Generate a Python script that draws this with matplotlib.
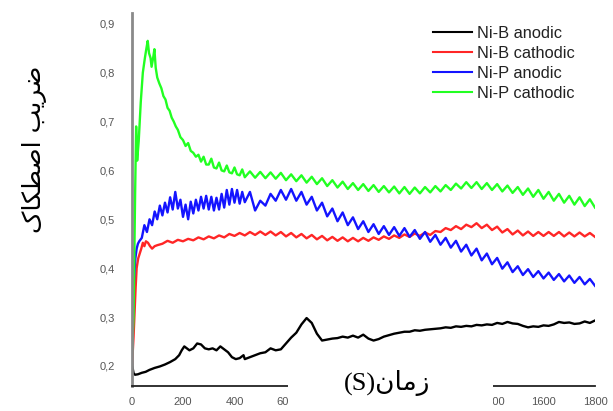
import numpy as np
import matplotlib
matplotlib.use("Agg")
import matplotlib.pyplot as plt
from matplotlib.patches import Rectangle

# time (s) for the dense tail part shared by all curves
t_tail = list(range(440, 1801, 20))

# Ni-B anodic
nib_an_t = [0, 3, 8, 14, 25, 40, 55, 70, 90, 110, 130, 150, 170, 185, 195, 205, 215,
            225, 240, 255, 270, 285, 300, 315, 330, 345, 360, 375, 390, 405, 420, 435]
nib_an_v = [0.25, 0.20, 0.185, 0.182, 0.183, 0.186, 0.188, 0.192, 0.196, 0.199, 0.203,
            0.208, 0.214, 0.222, 0.232, 0.240, 0.236, 0.232, 0.236, 0.246, 0.244, 0.236,
            0.234, 0.236, 0.232, 0.240, 0.234, 0.228, 0.218, 0.214, 0.216, 0.222]
nib_an_tail = [0.214, 0.218, 0.222, 0.226, 0.228, 0.236, 0.232, 0.234, 0.246, 0.258,
               0.268, 0.285, 0.298, 0.288, 0.266, 0.252, 0.254, 0.256, 0.257, 0.260,
               0.258, 0.262, 0.258, 0.264, 0.256, 0.252, 0.255, 0.260, 0.263, 0.266,
               0.268, 0.270, 0.270, 0.273, 0.272, 0.274, 0.275, 0.276, 0.277, 0.279,
               0.278, 0.281, 0.280, 0.282, 0.281, 0.284, 0.283, 0.285, 0.284, 0.288,
               0.286, 0.290, 0.287, 0.286, 0.282, 0.279, 0.281, 0.280, 0.283, 0.282,
               0.285, 0.290, 0.288, 0.289, 0.286, 0.287, 0.291, 0.288, 0.293]

# Ni-B cathodic
nib_ca_t = [0, 4, 8, 12, 16, 20, 26, 32, 38, 44, 50, 56, 64, 72, 80, 90, 100,
            120, 140, 160, 180, 200, 220, 240, 260, 280, 300, 320, 340, 360, 380, 400, 420]
nib_ca_v = [0.19, 0.22, 0.26, 0.31, 0.36, 0.40, 0.42, 0.43, 0.44, 0.452, 0.445, 0.455,
            0.452, 0.445, 0.440, 0.445, 0.447,
            0.450, 0.456, 0.452, 0.458, 0.455, 0.460, 0.457, 0.463, 0.459, 0.465, 0.461,
            0.467, 0.463, 0.470, 0.466, 0.472]
nib_ca_tail = [0.467, 0.474, 0.468, 0.475, 0.468, 0.475, 0.467, 0.474, 0.465, 0.472,
               0.463, 0.470, 0.461, 0.468, 0.459, 0.466, 0.457, 0.464, 0.456, 0.463,
               0.455, 0.462, 0.455, 0.462, 0.456, 0.463, 0.458, 0.465, 0.460, 0.467,
               0.462, 0.469, 0.464, 0.471, 0.466, 0.473, 0.468, 0.476, 0.474, 0.482,
               0.478, 0.486, 0.480, 0.489, 0.484, 0.492, 0.482, 0.489, 0.478, 0.485,
               0.473, 0.480, 0.469, 0.477, 0.467, 0.475, 0.466, 0.474, 0.466, 0.474,
               0.466, 0.474, 0.465, 0.473, 0.465, 0.473, 0.465, 0.472, 0.464]

# Ni-P anodic
nip_an_t = [0, 5, 10, 15, 20, 25, 30] + list(range(40, 431, 10))
nip_an_v = [0.20, 0.30, 0.38, 0.42, 0.44, 0.45, 0.455,
            0.462, 0.488, 0.474, 0.500, 0.488, 0.516, 0.500, 0.528, 0.508, 0.534,
            0.514, 0.545, 0.520, 0.556, 0.522, 0.540, 0.505, 0.530, 0.500, 0.536,
            0.512, 0.540, 0.518, 0.546, 0.522, 0.548, 0.520, 0.546, 0.518, 0.544,
            0.520, 0.552, 0.524, 0.560, 0.530, 0.562, 0.534, 0.560, 0.532, 0.556]
nip_an_tail = [0.535, 0.556, 0.518, 0.538, 0.528, 0.552, 0.538, 0.560, 0.540, 0.562,
               0.538, 0.556, 0.530, 0.546, 0.518, 0.534, 0.506, 0.522, 0.496, 0.514,
               0.488, 0.504, 0.480, 0.496, 0.474, 0.490, 0.470, 0.486, 0.468, 0.484,
               0.466, 0.482, 0.464, 0.478, 0.460, 0.474, 0.454, 0.468, 0.448, 0.462,
               0.442, 0.456, 0.434, 0.448, 0.426, 0.440, 0.416, 0.430, 0.408, 0.421,
               0.399, 0.412, 0.392, 0.404, 0.386, 0.398, 0.382, 0.394, 0.379, 0.391,
               0.376, 0.388, 0.373, 0.385, 0.370, 0.382, 0.367, 0.378, 0.364]

# Ni-P cathodic
nip_ca_t = [0, 8, 14, 18, 22, 28, 36, 44, 52, 58, 63, 68, 74, 78, 84, 89, 94, 100,
            108, 116, 124, 132, 140, 148, 156, 164, 172, 180, 190, 200, 210, 220, 230,
            240, 250, 260, 270, 280, 290, 300, 310, 320, 330, 340, 350, 360, 370, 380,
            390, 400, 410, 420, 430]
nip_ca_v = [0.20, 0.30, 0.55, 0.69, 0.62, 0.66, 0.74, 0.80, 0.83, 0.85, 0.865, 0.84,
            0.83, 0.812, 0.83, 0.848, 0.81, 0.79, 0.778, 0.768, 0.752, 0.745, 0.728,
            0.722, 0.708, 0.70, 0.69, 0.683, 0.668, 0.662, 0.65, 0.656, 0.64, 0.636,
            0.628, 0.632, 0.618, 0.628, 0.612, 0.612, 0.624, 0.606, 0.604, 0.616, 0.60,
            0.598, 0.610, 0.596, 0.594, 0.606, 0.592, 0.590, 0.602]
nip_ca_tail = [0.586, 0.598, 0.585, 0.597, 0.584, 0.596, 0.583, 0.595, 0.580, 0.592,
               0.578, 0.590, 0.575, 0.587, 0.572, 0.584, 0.568, 0.580, 0.565, 0.577,
               0.562, 0.574, 0.560, 0.572, 0.558, 0.570, 0.556, 0.568, 0.555, 0.567,
               0.553, 0.566, 0.552, 0.565, 0.553, 0.566, 0.555, 0.568, 0.557, 0.570,
               0.560, 0.573, 0.563, 0.576, 0.564, 0.576, 0.562, 0.574, 0.560, 0.572,
               0.557, 0.569, 0.554, 0.566, 0.550, 0.563, 0.546, 0.560, 0.542, 0.556,
               0.538, 0.552, 0.534, 0.548, 0.530, 0.545, 0.527, 0.541, 0.524]

labels = ["Ni-B anodic", "Ni-B cathodic", "Ni-P anodic", "Ni-P cathodic"]
colors = ["#000000", "#ff2626", "#1414ff", "#22ff22"]
series = [(nib_an_t, nib_an_v, nib_an_tail),
          (nib_ca_t, nib_ca_v, nib_ca_tail),
          (nip_an_t, nip_an_v, nip_an_tail),
          (nip_ca_t, nip_ca_v, nip_ca_tail)]

x_ticks = [0, 200, 400, 600, 800, 1000, 1200, 1400, 1600, 1800]
y_ticks = [0.2, 0.3, 0.4, 0.5, 0.6, 0.7, 0.8, 0.9]

# Persian labels written in presentation forms, visual order
# (matplotlib does no Arabic shaping)
ylabel_fa = "\uFB8E\uFE8E\uFB91\uFEC4\uFEBB\uFE8D \uFE90\uFBFE\uFEAE\uFEBF"
xlabel_fa = "(S)\uFEE5\uFE8E\uFEE3\uFEAF"

fig = plt.figure(figsize=(6.13, 4.11), dpi=100)
ax = fig.add_axes([131.5 / 613, 1 - 386 / 411, (595 - 131.5) / 613, (386 - 13) / 411])

for (t, v, tail), c, lab in zip(series, colors, labels):
    ax.plot(t + t_tail, v + tail, color=c, lw=1.7, label=lab)

ax.set_xlim(0, 1800)
ax.set_ylim(0.159, 0.922)
ax.set_xticks(x_ticks)
ax.set_yticks(y_ticks)
ax.set_yticklabels([f"{y:.1f}".replace(".", ",") for y in y_ticks])
ax.tick_params(length=0, labelsize=8, labelcolor="#555555")
ax.tick_params(axis="y", pad=12)
ax.tick_params(axis="x", pad=8)
for lab in ax.get_xticklabels() + ax.get_yticklabels():
    lab.set_family("Liberation Sans")

for s in ["top", "right"]:
    ax.spines[s].set_visible(False)
ax.spines["left"].set_color("#8a8a8a")
ax.spines["left"].set_linewidth(2)
ax.spines["bottom"].set_color("#222222")
ax.spines["bottom"].set_linewidth(1.3)

leg = ax.legend(loc="upper left", bbox_to_anchor=(0.618, 1.005), frameon=False,
                prop={"family": "Liberation Sans", "size": 11.8},
                handlelength=2.4, handletextpad=0.3, labelspacing=0.3)
for txt in leg.get_texts():
    txt.set_color("#222222")
for line in leg.get_lines():
    line.set_linewidth(1.5)

# white band over the middle of the time axis, with the axis title on it
fig.patches.append(Rectangle((288 / 613, 0), (493 - 288) / 613, 45 / 411,
                             transform=fig.transFigure, facecolor="white",
                             edgecolor="none", zorder=5))
fig.text(387 / 613, 1 - 383 / 411, xlabel_fa, ha="center", va="center",
         fontsize=19, family=["Liberation Serif", "DejaVu Sans"], zorder=6)
fig.text(35 / 613, 1 - 149 / 411, ylabel_fa, ha="center", va="center",
         rotation=90, fontsize=18, family=["DejaVu Sans"])

fig.savefig("out.png", dpi=100)
